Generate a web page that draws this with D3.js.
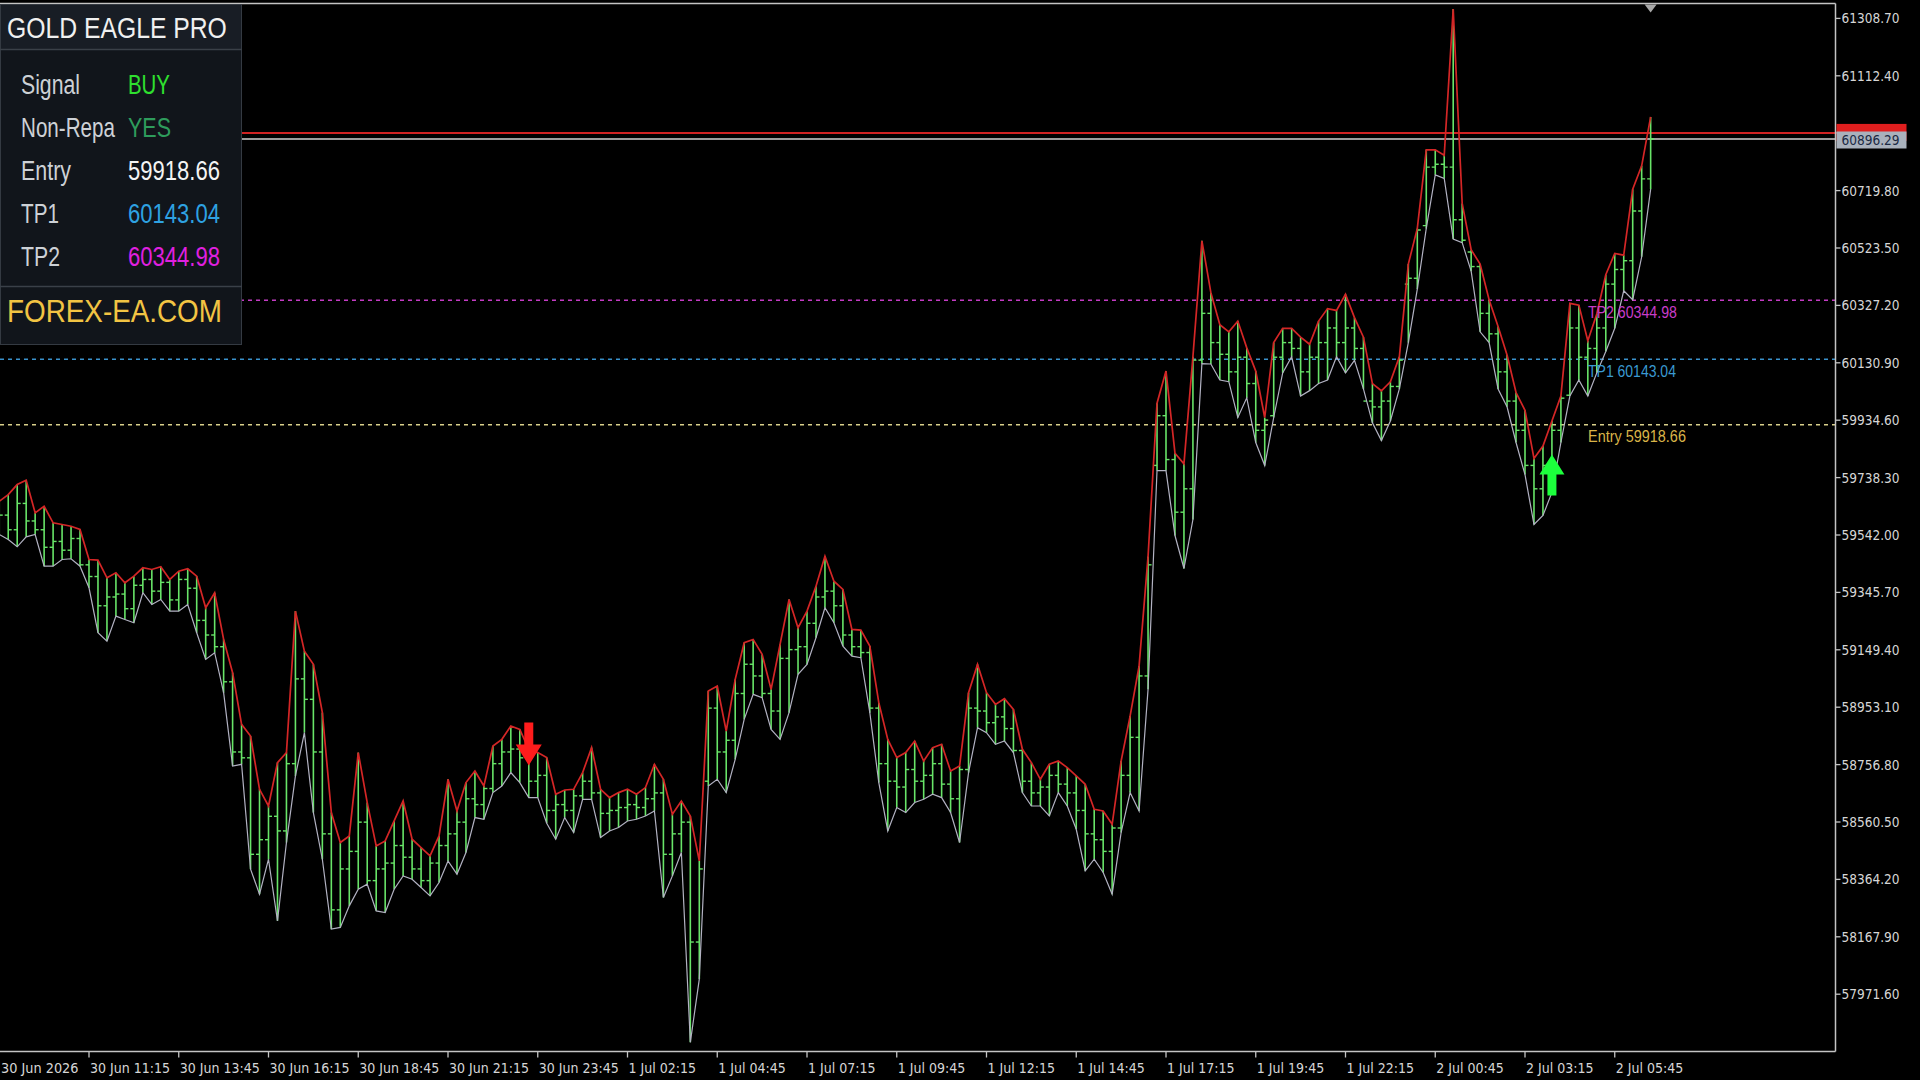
<!DOCTYPE html>
<html><head><meta charset="utf-8">
<script src="https://cdn.jsdelivr.net/npm/d3@7"></script>
<style>html,body{margin:0;padding:0;background:#000;overflow:hidden}</style>
</head><body>
<svg id="c" width="1920" height="1080"></svg>
<script>
// ---------- DATA (M15 bars) ----------
const firstBarTime = "2026-06-30T08:45";
const highs = [59657.4,59680.3,59714.5,59729.2,59617.8,59640.4,59583.7,59577.8,59572.0,59560.8,
 59458.3,59455.9,59395.7,59412.8,59378.6,59401.2,59429.9,59424.1,59433.3,59389.9,
 59418.3,59426.5,59401.2,59293.2,59344.5,59184.9,59071.1,58894.5,58854.5,58672.4,
 58615.3,58763.7,58797.8,59281.6,59144.9,59099.5,58934.5,58592.8,58490.3,58512.8,
 58797.8,58627.0,58478.7,58495.8,58564.1,58632.4,58501.6,58473.2,58444.5,58512.8,
 58706.6,58598.3,58695.3,58734.9,58683.7,58820.3,58843.2,58888.7,58877.4,58809.1,
 58797.8,58780.7,58655.3,58670.0,58672.4,58729.5,58814.9,58672.4,58644.0,58661.1,
 58672.4,58655.3,58678.2,58757.8,58706.6,58587.0,58632.4,58581.2,58427.4,59008.3,
 59025.3,58871.6,59048.2,59173.6,59184.9,59133.7,59014.1,59167.8,59321.6,59224.9,
 59281.6,59367.0,59469.5,59384.1,59355.7,59219.1,59216.7,59162.0,58968.6,58843.2,
 58780.7,58797.8,58837.4,58769.1,58814.9,58826.2,58734.9,58752.0,59002.8,59099.5,
 59002.8,58962.8,58982.3,58945.7,58809.1,58763.7,58706.6,58757.8,58769.1,58746.6,
 58717.9,58689.5,58604.1,58598.3,58552.8,58769.1,58922.8,59093.7,59468.5,59992.6,
 60102.6,59821.8,59785.2,60151.8,60548.2,60370.8,60261.2,60236.9,60273.5,60181.9,
 60102.6,59943.8,60200.0,60248.9,60248.9,60218.5,60194.2,60273.5,60316.2,60310.0,
 60365.0,60285.4,60218.5,60059.9,60035.3,60066.1,60151.5,60468.6,60590.5,60859.1,
 60859.1,60840.6,61340.9,60676.0,60517.4,60468.6,60346.6,60255.0,60157.3,60029.2,
 59968.4,59803.7,59846.4,59931.8,60017.2,60334.3,60328.1,60206.2,60297.7,60432.0,
 60505.1,60499.0,60724.8,60804.4,60971.8];
const lows = [59543.7,59526.6,59501.7,59535.8,59543.7,59435.3,59435.3,59458.3,59460.7,59435.3,
 59361.5,59207.8,59179.1,59264.5,59253.2,59242.0,59344.5,59304.5,59321.6,59281.6,
 59281.6,59304.5,59207.8,59116.6,59139.5,59002.8,58752.0,58757.8,58399.1,58313.7,
 58433.2,58222.4,58490.3,58717.9,58866.1,58592.8,58433.2,58194.1,58199.9,58273.7,
 58330.7,58347.8,58256.6,58251.1,58330.7,58376.2,58364.9,58336.5,58307.8,58353.6,
 58427.4,58382.0,58456.1,58575.7,58569.9,58661.1,58683.7,58729.5,58695.3,58644.0,
 58644.0,58556.2,58501.6,58575.7,58524.5,58638.2,58638.2,58507.4,58529.9,58541.5,
 58564.1,58569.9,58581.2,58598.3,58302.4,58376.2,58456.1,57807.0,58023.2,58683.7,
 58706.6,58661.1,58774.9,58911.6,58997.0,58985.7,58877.4,58843.2,58934.5,59065.3,
 59099.5,59190.7,59293.2,59242.0,59162.0,59127.9,59122.4,58934.5,58695.3,58529.9,
 58609.9,58592.8,58627.0,58638.2,58655.3,58644.0,58592.8,58490.3,58729.5,58883.2,
 58866.1,58826.2,58837.4,58797.8,58661.1,58615.3,58615.3,58581.2,58661.1,58615.3,
 58535.7,58393.3,58433.2,58387.8,58313.7,58524.5,58661.1,58598.3,59014.1,59762.3,
 59762.3,59540.2,59427.5,59594.9,60127.9,60126.9,60071.9,60066.4,59943.8,60011.1,
 59858.3,59779.4,59943.8,60096.5,60151.5,60017.2,60035.7,60059.9,60071.9,60151.5,
 60096.5,60139.2,60041.5,59925.6,59864.8,59931.8,60041.5,60200.0,60383.1,60590.5,
 60773.7,60761.4,60554.0,60541.7,60444.3,60236.9,60200.0,60041.5,59980.6,59858.3,
 59748.7,59577.8,59608.6,59687.5,59858.3,60017.2,60071.9,60017.2,60096.5,60169.6,
 60248.9,60377.3,60346.6,60493.5,60724.8];
const opens = [59590,59610,59560,59650,59590,59560,59500,59520,59490,59530,
 59440,59400,59300,59330,59340,59290,59370,59390,59350,59380,
 59320,59390,59360,59250,59200,59160,59040,58800,58780,58450,
 58500,58580,58530,58760,59050,58980,58800,58520,58260,58400,
 58460,58560,58360,58400,58420,58480,58440,58400,58360,58420,
 58480,58520,58560,58640,58620,58675,58760,58800,58810,58780,
 58700,58720,58600,58620,58600,58650,58700,58660,58590,58600,
 58610,58620,58610,58640,58660,58450,58520,58560,58150,58700,
 58950,58800,58840,59000,59100,59060,59000,58940,59120,59150,
 59160,59240,59330,59350,59300,59200,59160,59140,58950,58760,
 58700,58680,58740,58700,58720,58760,58690,58640,58740,58950,
 58940,58900,58920,58880,58805,58700,58660,58680,58720,58690,
 58660,58600,58520,58500,58460,58540,58720,58850,59060,59780,
 59950,59800,59620,59700,60140,60300,60200,60160,60100,60150,
 60060,59900,59950,60150,60200,60180,60100,60150,60200,60250,
 60200,60250,60180,60000,59980,60000,60050,60400,60420,60600,
 60800,60810,60800,60620,60510,60460,60300,60230,60100,60000,
 59900,59780,59700,59780,59900,60020,60250,60150,60180,60250,
 60400,60450,60480,60650,60760];
const closes = [59610,59560,59650,59590,59560,59500,59520,59490,59530,59440,
 59400,59300,59330,59340,59290,59370,59390,59350,59380,59320,
 59390,59360,59250,59200,59160,59040,58800,58780,58450,58500,
 58580,58530,58760,59050,58980,58800,58520,58260,58400,58460,
 58560,58360,58400,58420,58480,58440,58400,58360,58420,58480,
 58520,58560,58640,58620,58675,58760,58800,58810,58780,58700,
 58720,58600,58620,58600,58650,58700,58660,58590,58600,58610,
 58620,58610,58640,58660,58450,58520,58560,58150,58400,58950,
 58800,58840,59000,59100,59060,59000,58940,59120,59150,59160,
 59240,59330,59350,59300,59200,59160,59140,58950,58760,58700,
 58680,58740,58700,58720,58760,58690,58640,58740,58950,58940,
 58900,58920,58880,58805,58700,58660,58680,58720,58690,58660,
 58600,58520,58500,58460,58540,58720,58850,59060,59440,59950,
 59800,59620,59700,60140,60300,60200,60160,60100,60150,60060,
 59900,59935,60150,60200,60180,60100,60150,60200,60250,60200,
 60250,60180,60000,59980,60000,60050,60140,60420,60585,60800,
 60810,60800,60620,60550,60460,60300,60230,60100,60000,59900,
 59780,59700,59780,59900,60010,60250,60150,60180,60250,60400,
 60450,60480,60650,60760,60896.29];

// price labels visible on the axis (the 60916.10 step is hidden behind the price boxes)
const priceTicks = [61308.70,61112.40,60719.80,60523.50,60327.20,60130.90,59934.60,59738.30,
 59542.00,59345.70,59149.40,58953.10,58756.80,58560.50,58364.20,58167.90,57971.60];
const timeTicks = ["2026-06-30T11:15","2026-06-30T13:45","2026-06-30T16:15","2026-06-30T18:45",
 "2026-06-30T21:15","2026-06-30T23:45","2026-07-01T02:15","2026-07-01T04:45","2026-07-01T07:15",
 "2026-07-01T09:45","2026-07-01T12:15","2026-07-01T14:45","2026-07-01T17:15","2026-07-01T19:45",
 "2026-07-01T22:15","2026-07-02T00:45","2026-07-02T03:15","2026-07-02T05:45"];
const dateLabel = "30 Jun 2026";

const bidPrice = 60896.29;
const askPrice = 60917.10;
const levelNames = ["TP2","TP1","Entry"];
const levelValues = [60344.98, 60143.04, 59918.66];
const levelLineColors = ["#c43cc4","#3a92cc","#d8cf8a"];
const levelTextColors = ["#c83cc8","#3a9ad2","#d9b448"];
const levelTextWidths = [89, 88, 98];

const signalBars = [59, 173];
const signalTypes = ["sell","buy"];
const signalTipPrices = [58754, 59817];

const panelTitle = "GOLD EAGLE PRO";
const panelLabels = ["Signal","Non-Repa","Entry","TP1","TP2"];
const panelValues = ["BUY","YES","59918.66","60143.04","60344.98"];
const panelValueColors = ["#2fe02f","#2e9c5c","#f4f4f4","#2ea2e2","#e020e0"];
const panelFooter = "FOREX-EA.COM";

// ---------- SCALES ----------
const svg = d3.select("#c");
const parse = d3.timeParse("%Y-%m-%dT%H:%M");
const t0 = parse(firstBarTime);
const times = highs.map((_, i) => d3.timeMinute.offset(t0, 15 * i));
const x = d3.scaleTime().domain([times[0], times[times.length - 1]]).range([-0.75, 1650.65]);
const y = d3.scaleLinear().domain([61308.7, 57971.6]).range([18.4, 994.2]);
const PR = 1835.5, PT = 3.5, PB = 1051.5;

svg.append("rect").attr("width", 1920).attr("height", 1080).attr("fill", "#000");
const defs = svg.append("defs");
defs.append("clipPath").attr("id", "plot").append("rect").attr("x", 0).attr("y", PT).attr("width", PR).attr("height", PB - PT);

const plot = svg.append("g").attr("clip-path", "url(#plot)");

// level lines
plot.append("line").attr("x1", 0).attr("x2", PR).attr("y1", y(askPrice)).attr("y2", y(askPrice))
  .attr("stroke", "#d02222").attr("stroke-width", 2);
plot.append("line").attr("x1", 0).attr("x2", PR).attr("y1", y(bidPrice)).attr("y2", y(bidPrice))
  .attr("stroke", "#9c9c9c").attr("stroke-width", 2);
levelValues.forEach((v, k) => {
  plot.append("line").attr("x1", 0).attr("x2", PR).attr("y1", y(v)).attr("y2", y(v))
    .attr("stroke", levelLineColors[k]).attr("stroke-width", 1.5).attr("stroke-dasharray", "4,4");
});

// bars
const barCol = "#68e468";
const bars = plot.append("g");
highs.forEach((h, i) => {
  const xi = x(times[i]);
  bars.append("line").attr("x1", xi).attr("x2", xi).attr("y1", y(h)).attr("y2", y(lows[i]))
    .attr("stroke", barCol).attr("stroke-width", 1.6);
  bars.append("line").attr("x1", xi - 3.5).attr("x2", xi).attr("y1", y(opens[i])).attr("y2", y(opens[i]))
    .attr("stroke", barCol).attr("stroke-width", 1.4);
  bars.append("line").attr("x1", xi).attr("x2", xi + 3.5).attr("y1", y(closes[i])).attr("y2", y(closes[i]))
    .attr("stroke", barCol).attr("stroke-width", 1.4);
});
plot.append("path").datum(highs).attr("fill", "none").attr("stroke", "#d42626").attr("stroke-width", 1.7)
  .attr("d", d3.line().x((d, i) => x(times[i])).y(d => y(d)));
plot.append("path").datum(lows).attr("fill", "none").attr("stroke", "#b2b2c2").attr("stroke-width", 1.2)
  .attr("d", d3.line().x((d, i) => x(times[i])).y(d => y(d)));

// signal arrows
signalBars.forEach((b, k) => {
  const cx = x(times[b]), tip = y(signalTipPrices[k]);
  let d;
  if (signalTypes[k] === "sell") {
    d = `M${cx-4.5},${tip-43} L${cx+4.5},${tip-43} L${cx+4.5},${tip-21} L${cx+13},${tip-21} L${cx},${tip} L${cx-13},${tip-21} L${cx-4.5},${tip-21} Z`;
    plot.append("path").attr("d", d).attr("fill", "#ff1c1c");
  } else {
    d = `M${cx},${tip} L${cx+12.5},${tip+20} L${cx+4.5},${tip+20} L${cx+4.5},${tip+41} L${cx-4.5},${tip+41} L${cx-4.5},${tip+20} L${cx-12.5},${tip+20} Z`;
    plot.append("path").attr("d", d).attr("fill", "#1cff3c");
  }
});

// text helper: draw at (x,y) and squeeze horizontally to a target width
function fitText(parent, str, tx, ty, target, attrs) {
  const t = parent.append("text").attr("x", 0).attr("y", 0);
  Object.entries(attrs).forEach(([k, v]) => t.attr(k, v));
  t.text(str);
  const w = t.node().getComputedTextLength();
  t.attr("transform", `translate(${tx},${ty}) scale(${target / w},1)`);
  return t;
}

// level text labels
levelValues.forEach((v, k) => {
  fitText(svg, levelNames[k] + " " + d3.format(".2f")(v), 1588, y(v) + 17.5, levelTextWidths[k],
    {"font-family": "Liberation Sans, Arial, sans-serif", "font-size": 17, "fill": levelTextColors[k]});
});

// top shift marker
const xl = x(times[times.length - 1]);
svg.append("path").attr("d", `M${xl-6},${PT+1} L${xl+6},${PT+1} L${xl},${PT+9} Z`).attr("fill", "#a8a8a8");

// frame
const frameCol = "#c4c4c4";
svg.append("line").attr("x1", 0).attr("x2", PR).attr("y1", PT).attr("y2", PT).attr("stroke", frameCol).attr("stroke-width", 1.5);
svg.append("line").attr("x1", 0).attr("x2", PR).attr("y1", PB).attr("y2", PB).attr("stroke", frameCol).attr("stroke-width", 1.5);
svg.append("line").attr("x1", PR).attr("x2", PR).attr("y1", PT).attr("y2", PB).attr("stroke", frameCol).attr("stroke-width", 1.5);

function squeeze(sel, k) {
  sel.each(function () {
    const w = this.getComputedTextLength();
    this.setAttribute("textLength", w * k);
    this.setAttribute("lengthAdjust", "spacingAndGlyphs");
  });
}
const axisFont = "DejaVu Sans, sans-serif";

// price axis
priceTicks.forEach(p => {
  svg.append("line").attr("x1", PR).attr("x2", PR + 5).attr("y1", y(p)).attr("y2", y(p)).attr("stroke", frameCol).attr("stroke-width", 1.3);
  const t = svg.append("text").attr("x", PR + 6).attr("y", y(p) + 5).attr("font-family", axisFont).attr("font-size", 14)
    .attr("fill", "#d6d6d6").text(d3.format(".2f")(p));
  squeeze(t, 0.87);
});
// current price boxes
svg.append("line").attr("x1", PR).attr("x2", PR + 5).attr("y1", y(askPrice)).attr("y2", y(askPrice)).attr("stroke", frameCol).attr("stroke-width", 1.3);
svg.append("rect").attr("x", PR + 1).attr("y", y(askPrice) - 9).attr("width", 70).attr("height", 17).attr("fill", "#e01e1e");
svg.append("rect").attr("x", PR + 1).attr("y", y(bidPrice) - 7.5).attr("width", 70).attr("height", 17).attr("fill", "#a9b1bc");
const bt = svg.append("text").attr("x", PR + 6).attr("y", y(bidPrice) + 6).attr("font-family", axisFont).attr("font-size", 14)
  .attr("fill", "#1b2a44").text(d3.format(".2f")(bidPrice));
squeeze(bt, 0.87);

// time axis
const fmt = d3.timeFormat("%-d %b %H:%M");
timeTicks.forEach(s => {
  const tt = parse(s), xt = x(tt);
  svg.append("line").attr("x1", xt).attr("x2", xt).attr("y1", PB).attr("y2", PB + 6).attr("stroke", frameCol).attr("stroke-width", 1.3);
  const t = svg.append("text").attr("x", xt + 1).attr("y", PB + 21).attr("font-family", axisFont).attr("font-size", 14)
    .attr("fill", "#d6d6d6").text(fmt(tt));
  squeeze(t, 0.9);
});
const dl = svg.append("text").attr("x", 1).attr("y", PB + 21).attr("font-family", axisFont).attr("font-size", 14)
  .attr("fill", "#d6d6d6").text(dateLabel);
squeeze(dl, 0.92);

// info panel
const panel = svg.append("g");
panel.append("rect").attr("x", 0.5).attr("y", 4.5).attr("width", 241).attr("height", 340).attr("fill", "#11151b").attr("stroke", "#343a42");
panel.append("rect").attr("x", 1).attr("y", 5).attr("width", 240).attr("height", 44).attr("fill", "#181d25");
panel.append("line").attr("x1", 0).attr("x2", 242).attr("y1", 49.5).attr("y2", 49.5).attr("stroke", "#3a4048").attr("stroke-width", 1.5);
panel.append("line").attr("x1", 0).attr("x2", 242).attr("y1", 286.5).attr("y2", 286.5).attr("stroke", "#3a4048").attr("stroke-width", 1.5);
const pf = "Liberation Sans, Arial, sans-serif";
fitText(panel, panelTitle, 7, 38, 220, {"font-family": pf, "font-size": 29, "fill": "#f0f0f0"});
const rowBase = [94, 137, 180, 223, 266];
const labelW = [59, 94, 50, 38, 39];
const valueW = [42, 43, 92, 92, 92];
panelLabels.forEach((l, k) => {
  fitText(panel, l, 21, rowBase[k], labelW[k], {"font-family": pf, "font-size": 27, "fill": "#cdd1d6"});
  fitText(panel, panelValues[k], 128, rowBase[k], valueW[k], {"font-family": pf, "font-size": 27, "fill": panelValueColors[k]});
});
fitText(panel, panelFooter, 7, 322, 215, {"font-family": pf, "font-size": 32, "fill": "#f2c443"});
</script>
</body></html>
